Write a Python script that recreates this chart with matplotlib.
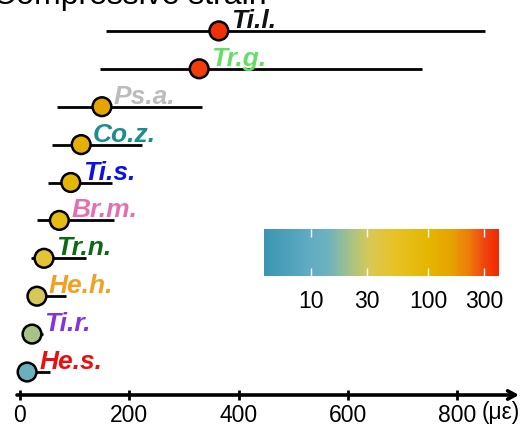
import numpy as np
import matplotlib
matplotlib.use('Agg')
import matplotlib.pyplot as plt
from matplotlib.colors import LinearSegmentedColormap, LogNorm
from matplotlib.cm import ScalarMappable
from matplotlib.ticker import NullLocator

plt.rcParams['font.family'] = ['Liberation Sans', 'DejaVu Sans']

# species, bottom to top
species = ['He.s.', 'Ti.r.', 'He.h.', 'Tr.n.', 'Br.m.', 'Ti.s.', 'Co.z.', 'Ps.a.', 'Tr.g.', 'Ti.l.']
label_colors = ['#e81010', '#8232e0', '#f2a020', '#0c6a12', '#e271b2',
                '#0a12e6', '#1a8f8c', '#bcbcbc', '#66dd66', '#111111']
strain = [13, 22, 31, 44, 72, 93, 112, 150, 328, 364]
strain_lo = [2, 10, 15, 20, 31, 52, 58, 68, 146, 157]
strain_hi = [55, 42, 84, 121, 172, 168, 223, 333, 736, 851]

xticks = [0, 200, 400, 600, 800]
cbar_ticks = [10, 30, 100, 300]

cmap = LinearSegmentedColormap.from_list('strain', [
    (0.00, '#3a95b2'), (0.20, '#62acc2'), (0.27, '#6cb2c0'),
    (0.37, '#a8c286'), (0.445, '#d6c858'), (0.55, '#e8c228'),
    (0.70, '#e4b600'), (0.80, '#e6a200'), (0.875, '#ee7a0c'),
    (0.94, '#f04410'), (1.00, '#f22800')])
norm = LogNorm(vmin=4, vmax=400)

W, H = 528, 426
fig = plt.figure(figsize=(W / 100, H / 100), dpi=100)
ax = fig.add_axes([0, 31 / H, 1, 395 / H])
px = 437 / 800          # pixels per microstrain
row = 37.9              # pixels per row
ax.set_xlim(-20 / px, (W - 20) / px)
ax.set_ylim(-23 / row, 372 / row)
for s in ax.spines.values():
    s.set_visible(False)
ax.set_yticks([])

y = np.arange(len(species))
ax.hlines(y, strain_lo, strain_hi, color='black', lw=2, zorder=2)
ax.scatter(strain, y, c=strain, cmap=cmap, norm=norm, s=13.5 ** 2,
           edgecolors='black', linewidths=1.8, zorder=3, clip_on=False)
for yi, xi, name, col in zip(y, strain, species, label_colors):
    ax.text(xi + 12 / px, yi + 3 / row, name, color=col, fontsize=19,
            fontweight='bold', fontstyle='italic', va='baseline', ha='left', zorder=4)

# x axis with arrow head
ybase = -23 / row
ax.annotate('', xy=(499 / px, ybase), xytext=(-3 / px, ybase),
            arrowprops=dict(arrowstyle='->,head_length=0.55,head_width=0.3',
                            lw=2.6, color='black', shrinkA=0, shrinkB=0),
            annotation_clip=False)
ax.set_xticks(xticks)
ax.set_xticklabels([str(t) for t in xticks])
ax.tick_params(axis='x', direction='inout', length=7, width=2, labelsize=16.5, pad=3)
ax.text(462 / px, ybase - 18 / row, '(με)', fontsize=16.5, ha='left', va='center')

fig.text(-7 / W, 1 - 4 / H, 'Compressive strain', fontsize=23, va='baseline', ha='left')

# colour scale
cax = fig.add_axes([264 / W, 1 - 276 / H, 235 / W, 47 / H])
cb = fig.colorbar(ScalarMappable(norm=norm, cmap=cmap), cax=cax, orientation='horizontal')
cb.outline.set_visible(False)
cb.set_ticks(cbar_ticks)
cb.set_ticklabels([str(t) for t in cbar_ticks])
cax.xaxis.set_minor_locator(NullLocator())
cax.tick_params(axis='x', which='both', direction='in', color='white', width=1,
                length=6, top=True, bottom=True, labelsize=16.5, pad=10)

fig.savefig('out.png', dpi=100)
